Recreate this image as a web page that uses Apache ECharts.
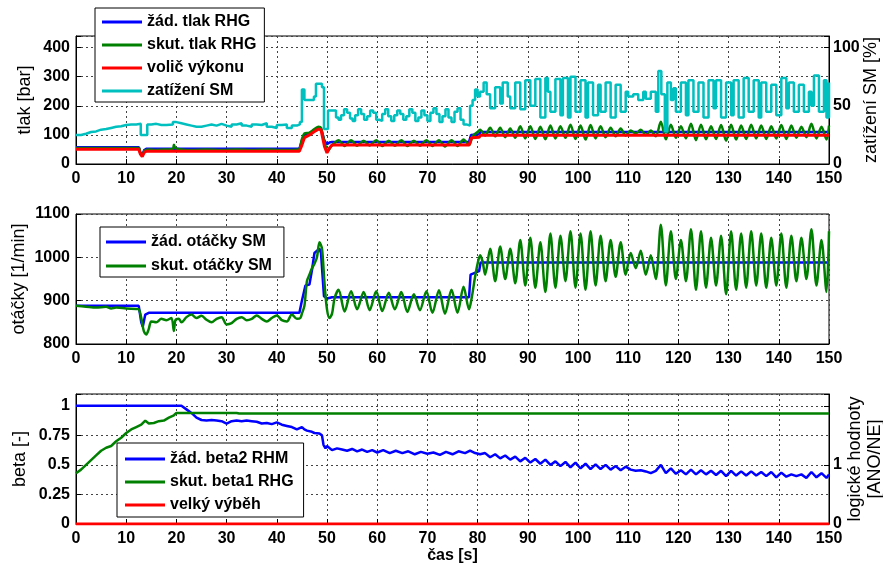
<!DOCTYPE html>
<html><head><meta charset="utf-8">
<script src="https://cdn.jsdelivr.net/npm/echarts@6/dist/echarts.min.js"></script>
<style>html,body{margin:0;padding:0;background:#fff}#c{width:883px;height:569px}</style>
</head><body><div id="c"></div>
<script>
// ---------- DATA ----------
const xTicks = [0,10,20,30,40,50,60,70,80,90,100,110,120,130,140,150];
// plot 1: pressures [bar] (left axis), load [%] (right axis)
const zadTlak = [[0,58],[12.5,58],[12.8,40],[13.2,30],[13.6,48],[14,52],[44.5,52],[45,80],[45.5,100],[46.5,105],[47.5,118],[48.3,125],[48.8,122],[49.5,80],[50,68],[50.5,74],[51,76],[78.3,76],[78.7,100],[80.3,102],[80.6,110],[150,110]];
const skutTlak = [[0,55],[12.5,55],[12.8,38],[13.2,28],[13.6,45],[14.5,50],[16,48],[18,50],[19.3,52],[19.5,66],[19.8,55],[21,50],[23,48],[26,50],[29,48],[32,50],[35,48],[38,50],[41,48],[44.3,50],[45,85],[45.5,105],[46.5,108],[47.5,120],[48.3,128],[48.8,125],[49.5,75],[50.2,45],[50.8,60],[51.5,72],
 [52.3,82],[53.5,62],[54.8,82],[56,63],[57.3,80],[58.5,64],[59.8,82],[61,62],[62.3,80],[63.5,63],[64.8,82],[66,62],[67.3,80],[68.5,63],[69.8,82],[71,62],[72.3,82],[73.5,60],[74.8,82],[76,62],[77.2,84],[78.3,65],[79,95],[80,110],[80.5,118],
 [81.5,98],[82.5,125],[83.5,95],[84.5,125],[85.5,92],[86.5,122],[87.5,90],[88.5,130],[89.5,88],[90.5,130],[91.5,86],[92.5,128],[93.5,85],[94.5,132],[95.5,88],[96.5,130],[97.5,90],[98.5,135],[99.5,86],[100.5,132],[101.5,84],[102.5,134],[103.5,88],[104.5,130],[105.5,92],[106.5,125],[107.5,95],[108.5,122],[109.5,98],[110.5,115],[111.5,105],[112.5,118],[113.5,100],[114.5,115],[115.5,95],[116.5,145],[117.5,85],[118.5,135],[119.5,90],[120.5,130],[121.5,88],[122.5,138],[123.5,82],[124.5,135],[125.5,85],[126.5,130],[127.5,86],[128.5,134],[129.5,80],[130.5,135],[131.5,84],[132.5,132],[133.5,86],[134.5,135],[135.5,88],[136.5,132],[137.5,86],[138.5,130],[139.5,88],[140.5,134],[141.5,86],[142.5,132],[143.5,90],[144.5,128],[145.5,92],[146.5,138],[147.5,88],[148.5,128],[149.5,84],[150,132]];
const volicVykonu = [[0,51],[12.5,51],[12.8,35],[13.2,25],[13.6,40],[14,44],[44.5,44],[45,65],[45.5,90],[46.5,100],[47.5,112],[48.3,120],[48.8,118],[49.5,60],[50,38],[50.5,55],[51,65],[78.3,65],[78.8,90],[80.3,92],[80.6,99],[150,99]];
const zatizeniSM = [[0,25],[1,26],[2,27.5],[3,28],[4,29.5],[5,30],[6,31],[7,32],[8,32.5],[9,33.5],[10,34],[11,34],[12,34.5],[12.9,25],[14.2,34],[15,34.5],[16,33.5],[17,33.5],[18,34],[19.3,36],[20,35],[21,34],[22,33],[23,32],[24,32],[25,33],[26,34],[27,33],[28,34.5],[29,33],[30,32],[31,34],[32,35],[33,33],[34,32],[35,34],[36,33.5],[37,35],[38,32],[39,31],[40,33.5],[41,34],[42,31],[43,33],[44,34],[44.6,36],[45,64],[45.5,55],[47.4,58],[47.8,69],[49,66],[49.4,30],[50.2,46],[51.2,46],[51.8,40],[52.3,38],[52.8,42],[53.4,47],[54,44],[54.6,39],[55.1,37],[55.6,42],[56.2,47],[56.8,43],[57.4,38],[58,41],[58.6,46],[59.2,44],[59.8,38],[60.4,37],[61,43],[61.6,47],[62.2,41],[62.8,37],[63.4,42],[64,46],[64.6,43],[65.2,38],[65.8,41],[66.4,47],[67,44],[67.6,37],[68.2,40],[68.8,46],[69.4,42],[70,37],[70.6,44],[71.2,48],[71.8,43],[72.4,36],[73,41],[73.6,47],[74.2,40],[74.8,36],[75.4,45],[76,48],[76.6,38],[77.2,34],[77.8,33],[78.5,50],[79,55],[79.5,64],[80,58],[80.5,62],[81.2,70],[81.8,60],
 [82.5,48],[83.5,66],[84.5,52],[85,70],[86,58],[86.5,48],[87.5,70],[88.5,47],[89.5,72],[90.5,50],[91.5,73],[92.5,40],[93.5,74],[94,62],[94.5,45],[95.5,73],[96.5,42],[97,74],[98,40],[98.5,75],[99.5,45],[100.5,72],[101.5,40],[102,70],[103,42],[104,68],[104.5,45],[105.5,70],[106.5,40],[107.5,68],[108.5,45],[109.5,62],[110,58],[111,60],[112,55],[113,62],[113.5,56],[114.5,62],[115.5,45],[116,80],[116.6,60],[117.3,28],[117.8,70],[118.5,55],[119,65],[119.5,45],[120.5,70],[121.5,42],[122,72],[123,45],[124,70],[125,40],[126,72],[127,48],[127.5,72],[128.5,40],[129.5,70],[130.5,42],[131,72],[132,40],[133,74],[134,45],[135,72],[136,40],[136.5,70],[137.5,45],[138.5,68],[139.5,42],[140.5,74],[141.5,48],[142,70],[143,45],[144,68],[145,45],[146,62],[146.5,50],[147,76],[148,45],[149,72],[149.5,40],[150,70]];
// plot 2: speed [1/min]
const zadOtacky = [[0,888],[12.5,888],[13,850],[13.3,840],[13.8,868],[14.5,872],[44.5,872],[45,900],[45.7,935],[46.5,937],[47,970],[47.5,1010],[48.5,1020],[48.8,1010],[49.4,910],[50,905],[51,908],[78.3,908],[78.6,960],[80.3,968],[80.6,988],[150,988]];
const skutOtacky = [[0,888],[2,886],[4,884],[6,886],[7,882],[8,884],[10,882],[12,881],[12.5,880],[13,860],[13.5,830],[14,822],[14.5,835],[15,852],[16,850],[17,858],[18,855],[19,860],[19.5,830],[19.8,855],[20.5,858],[21,850],[22,862],[23,868],[24,860],[25,865],[26,856],[27,850],[28,858],[29,862],[30,845],[31,848],[32,858],[33,862],[34,855],[35,858],[36,866],[37,858],[38,852],[39,860],[40,866],[41,855],[42,852],[43,868],[44,858],[44.7,860],[45,870],[45.5,888],[46,945],[46.5,960],[47,975],[47.5,985],[48,1000],[48.5,1035],[49,1020],[49.5,940],[50,880],[50.5,860],[51,870],[51.5,905],
 [52.3,925],[53.5,875],[54.8,922],[56,880],[57.3,920],[58.5,878],[59.8,922],[61,876],[62.3,918],[63.5,880],[64.8,920],[66,874],[67.3,915],[68.5,878],[69.8,922],[71,872],[72.3,924],[73.5,870],[74.8,925],[76,872],[77.2,932],[78.3,880],[78.8,905],[79.5,955],[80,985],[80.5,1005],[81,990],
 [81.5,960],[82.5,1020],[83.5,945],[84.5,1025],[85.5,950],[86.5,1020],[87.5,940],[88.5,1040],[89.5,935],[90.5,1045],[91.5,930],[92.5,1035],[93.5,920],[94.5,1055],[95.5,930],[96.5,1050],[97.5,945],[98.5,1060],[99.5,930],[100.5,1055],[101.5,925],[102.5,1060],[103.5,935],[104.5,1050],[105.5,945],[106.5,1040],[107.5,955],[108.5,1035],[109.5,960],[110.5,1010],[111.5,975],[112.5,1015],[113.5,960],[114.5,1005],[115.5,950],[116.5,1075],[117.5,935],[118.5,1060],[119.5,950],[120.5,1040],[121.5,945],[122.5,1065],[123.5,925],[124.5,1060],[125.5,930],[126.5,1045],[127.5,935],[128.5,1050],[129.5,915],[130.5,1060],[131.5,925],[132.5,1055],[133.5,930],[134.5,1060],[135.5,935],[136.5,1055],[137.5,930],[138.5,1045],[139.5,935],[140.5,1055],[141.5,930],[142.5,1050],[143.5,945],[144.5,1045],[145.5,950],[146.5,1065],[147.5,935],[148.5,1040],[149.5,920],[150,1060]];
// plot 3: beta [-] (left), logical values (right)
const zadBeta2 = [[0,1],[21,1],[22,0.97],[23,0.94],[24,0.9],[25,0.88],[26,0.875],[27,0.88],[28,0.875],[29,0.87],[30,0.85],[31,0.87],[32,0.875],[33,0.87],[34,0.875],[35,0.87],[36,0.865],[37,0.85],[38,0.855],[39,0.845],[40,0.86],[41,0.84],[42,0.83],[43,0.82],[44,0.8],[45,0.82],[45.5,0.8],[46,0.79],[47,0.78],[47.5,0.77],[48.5,0.765],[49,0.75],[49.3,0.67],[49.7,0.64],[50,0.66],[51,0.625],[52,0.64],[53,0.63],[54,0.62],[55,0.635],[56,0.615],[57,0.63],[58,0.61],[59,0.625],
 [60,0.605],[61.2,0.625],[62.5,0.6],[63.7,0.62],[65,0.6],[66.2,0.615],[67.5,0.59],[68.7,0.61],[70,0.595],[71.2,0.605],[72.5,0.585],[73.7,0.61],[75,0.59],[76.2,0.615],[77.5,0.6],[78.5,0.62],[79.5,0.6],[80.5,0.59],[81.5,0.6],[82.5,0.565],[83.5,0.59],[84.5,0.555],[85.5,0.58],[86.5,0.545],[87.5,0.57],[88.5,0.53],[89.5,0.56],[90.5,0.52],[91.5,0.55],[92.5,0.51],[93.5,0.545],[94.5,0.5],[95.5,0.53],[96.5,0.49],[97.5,0.525],[98.5,0.48],[99.5,0.52],[100.5,0.47],[101.5,0.51],[102.5,0.465],[103.5,0.505],[104.5,0.465],[105.5,0.5],[106.5,0.46],[107.5,0.49],[108.5,0.455],[109.5,0.485],[110.5,0.46],[111.5,0.45],[112.5,0.455],[113.5,0.445],[114.5,0.43],[115.5,0.45],[116.5,0.5],[117.5,0.43],[118.5,0.47],[119.5,0.425],[120.5,0.455],[121.5,0.42],[122.5,0.46],[123.5,0.42],[124.5,0.455],[125.5,0.42],[126.5,0.45],[127.5,0.415],[128.5,0.45],[129.5,0.405],[130.5,0.45],[131.5,0.41],[132.5,0.445],[133.5,0.41],[134.5,0.445],[135.5,0.41],[136.5,0.44],[137.5,0.405],[138.5,0.44],[139.5,0.395],[140.5,0.435],[141.5,0.4],[142.5,0.42],[143.5,0.405],[144.5,0.42],[145.5,0.39],[146.5,0.44],[147.5,0.395],[148.5,0.43],[149.5,0.39],[150,0.42]];
const skutBeta1 = [[0,0.43],[1,0.46],[2,0.5],[3,0.54],[4,0.58],[5,0.62],[6,0.645],[7,0.66],[8,0.7],[9,0.73],[10,0.77],[11,0.8],[12,0.82],[13,0.84],[13.8,0.875],[14.5,0.85],[15.5,0.855],[16.5,0.87],[17.5,0.875],[18.5,0.9],[19.5,0.92],[20,0.94],[32,0.94],[32.5,0.935],[150,0.935]];
const velkyVybeh = [[0,0],[150,0]];

// ---------- CHART ----------
const FONT = 'Arial, "Liberation Sans", sans-serif';
const C = {blue:'#0000ff', green:'#008000', red:'#ff0000', cyan:'#00bfbf'};
const gridDefs = [{top:36,height:128},{top:214,height:130},{top:394,height:130}];
const grids = gridDefs.map(g => ({left:76, right:54, top:g.top, height:g.height, show:true,
  borderColor:'#000', borderWidth:1, backgroundColor:'#fff', containLabel:false, outerBoundsMode:'none'}));
const splitL = {show:true, lineStyle:{color:'#444', type:[2,3], width:1}};
const tickLbl = {color:'#000', fontFamily:FONT, fontSize:16, fontWeight:'bold'};
function xAx(i, extra){
  return Object.assign({type:'value', gridIndex:i, min:0, max:150, interval:10,
    axisLine:{show:true, onZero:false, lineStyle:{color:'#000'}},
    axisTick:{show:true, inside:true, length:5, lineStyle:{color:'#000'}},
    axisLabel:Object.assign({margin:7}, tickLbl),
    splitLine:splitL, nameMoveOverlap:false}, extra||{});
}
function yAx(i, pos, min, max, interval, fmt, name, nameGap, extra){
  return Object.assign({type:'value', gridIndex:i, position:pos, min:min, max:max, interval:interval,
    axisLine:{show:true, onZero:false, lineStyle:{color:'#000'}},
    axisTick:{show:true, inside:true, length:5, lineStyle:{color:'#000'}},
    axisLabel:Object.assign({margin:pos==='left'?6:4, formatter:fmt}, tickLbl),
    splitLine: pos==='left' ? splitL : {show:false},
    name:name, nameLocation:'middle', nameRotate:90, nameGap:nameGap, nameMoveOverlap:false,
    nameTextStyle:{color:'#000', fontFamily:FONT, fontSize:18, lineHeight:20}}, extra||{});
}
const lineS = (name, data, xi, yi, color, w, extra) => Object.assign({
  type:'line', name:name, data:data, xAxisIndex:xi, yAxisIndex:yi, showSymbol:false, symbol:'none',
  lineStyle:{color:color, width:w}, itemStyle:{color:color}, animation:false}, extra||{});

const legendBase = {orient:'vertical', backgroundColor:'#fff', borderColor:'#000', borderWidth:1,
  icon:'rect', itemWidth:40, itemHeight:3, itemGap:7, z:20,
  textStyle:{color:'#000', fontFamily:FONT, fontSize:16, fontWeight:'bold', lineHeight:16}};

const option = {
  animation:false,
  backgroundColor:'#fff',
  grid: grids,
  xAxis:[xAx(0), xAx(1), xAx(2, {name:'čas [s]', nameLocation:'middle', nameGap:24,
    nameTextStyle:{color:'#000', fontFamily:FONT, fontSize:16, fontWeight:'bold'}})],
  yAxis:[
    yAx(0,'left',0,440,100, v => v>400?'':v, 'tlak [bar]', 41),
    yAx(0,'right',0,110,50, v => v>100?'':v, 'zatížení SM [%]', 32),
    yAx(1,'left',800,1100,100, v => v, 'otáčky [1/min]', 47),
    yAx(2,'left',0,1.1,0.25, v => v>1.001?'':v, 'beta [-]', 46),
    yAx(2,'right',0,2.2,1, v => v>1.001?'':v, 'logické hodnoty\n[ANO/NE]', 16)
  ],
  legend:[
    Object.assign({}, legendBase, {left:95, top:8, padding:[6,8,3,7], data:['žád. tlak RHG','skut. tlak RHG','volič výkonu','zatížení SM']}),
    Object.assign({}, legendBase, {left:100, top:227, itemGap:8, padding:[7,12,3,6], data:['žád. otáčky SM','skut. otáčky SM']}),
    Object.assign({}, legendBase, {left:117, top:443, padding:[8,10,4,8], data:['žád. beta2 RHM','skut. beta1 RHG','velký výběh']})
  ],
  series:[
    lineS('žád. tlak RHG', zadTlak, 0, 0, C.blue, 2.5),
    lineS('skut. tlak RHG', skutTlak, 0, 0, C.green, 2.5, {smooth:0.3}),
    lineS('volič výkonu', volicVykonu, 0, 0, C.red, 3),
    lineS('zatížení SM', zatizeniSM, 0, 1, C.cyan, 2.5, {step:'end'}),
    lineS('žád. otáčky SM', zadOtacky, 1, 2, C.blue, 2.5),
    lineS('skut. otáčky SM', skutOtacky, 1, 2, C.green, 2.5, {smooth:0.3}),
    lineS('žád. beta2 RHM', zadBeta2, 2, 3, C.blue, 2.5),
    lineS('skut. beta1 RHG', skutBeta1, 2, 3, C.green, 2.5),
    lineS('velký výběh', velkyVybeh, 2, 4, C.red, 3)
  ]
};
const chart = echarts.init(document.getElementById('c'), null, {renderer:'canvas'});
chart.setOption(option);
</script>
</body></html>
